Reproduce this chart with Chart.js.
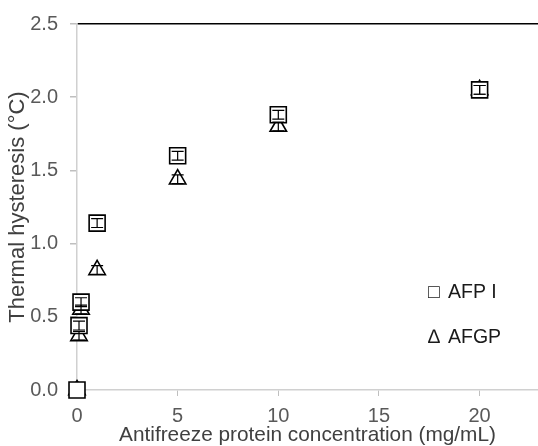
<!DOCTYPE html>
<html>
<head>
<meta charset="utf-8">
<script src="https://cdn.jsdelivr.net/npm/chart.js@4.4.0/dist/chart.umd.min.js"></script>
<style>
  html, body { margin: 0; padding: 0; background: #fff; }
</style>
</head>
<body>
<canvas id="chart" width="538" height="446"></canvas>
<script>
// Antifreeze protein concentration (mg/mL) vs thermal hysteresis (°C)
const afpConc = [0, 0.1, 0.2, 1, 5, 10, 20];
const afpTH = [0, 0.44, 0.60, 1.14, 1.60, 1.88, 2.05];
const afpErr = [0, 0.03, 0.03, 0.03, 0.03, 0.03, 0.03];

const afgpConc = [0, 0.1, 0.2, 1, 5, 10, 20];
const afgpTH = [0, 0.37, 0.55, 0.82, 1.44, 1.80, 2.05];
const afgpErr = [0, 0.03, 0.03, 0.03, 0.03, 0.03, 0.03];

const xTicks = [0, 5, 10, 15, 20];
const yTicks = [0, 0.5, 1, 1.5, 2, 2.5];
const yTickLabels = ['0.0', '0.5', '1.0', '1.5', '2.0', '2.5'];
const legendSymbols = ['\u25A1', '\u2206'];
const legendLabels = ['AFP I', 'AFGP'];

const FONT = '"Liberation Sans", Arial, sans-serif';

function toPoints(xs, ys) {
    return xs.map((x, i) => ({ x: x, y: ys[i] }));
}

// error bars drawn on top of the markers
const errorBars = {
    id: 'errorBars',
    afterDatasetsDraw(chart) {
        const ctx = chart.ctx;
        const xs = chart.scales.x;
        const ys = chart.scales.y;
        const errs = [afpErr, afgpErr];
        chart.data.datasets.forEach((ds, d) => {
            ds.data.forEach((p, i) => {
                const e = errs[d][i];
                if (!e) return;
                const px = xs.getPixelForValue(p.x);
                const top = ys.getPixelForValue(p.y + e);
                const bot = ys.getPixelForValue(p.y - e);
                ctx.save();
                ctx.strokeStyle = '#000';
                ctx.lineWidth = 1.2;
                ctx.beginPath();
                ctx.moveTo(px, top); ctx.lineTo(px, bot);
                ctx.moveTo(px - 6, top); ctx.lineTo(px + 6, top);
                ctx.moveTo(px - 6, bot); ctx.lineTo(px + 6, bot);
                ctx.stroke();
                ctx.restore();
            });
        });
    }
};

// text legend like the original
const textLegend = {
    id: 'textLegend',
    afterDraw(chart) {
        const ctx = chart.ctx;
        ctx.save();
        ctx.font = '19.5px ' + FONT;
        ctx.fillStyle = '#1a1a1a';
        ctx.textAlign = 'left';
        ctx.textBaseline = 'middle';
        const rows = [293, 338];
        rows.forEach((y, i) => {
            ctx.fillText(legendSymbols[i], 428, y);
            ctx.fillText(legendLabels[i], 448, y);
        });
        ctx.restore();
    }
};

const ctx = document.getElementById('chart').getContext('2d');
const chart = new Chart(ctx, {
    type: 'scatter',
    data: {
        datasets: [
            {
                label: 'AFP I',
                data: toPoints(afpConc, afpTH),
                pointStyle: 'rect',
                pointRadius: 11.3,
                pointHoverRadius: 11.3,
                backgroundColor: '#fff',
                borderColor: '#000',
                borderWidth: 1.6,
                clip: false
            },
            {
                label: 'AFGP',
                data: toPoints(afgpConc, afgpTH),
                pointStyle: 'triangle',
                pointRadius: 9.5,
                pointHoverRadius: 9.5,
                backgroundColor: '#fff',
                borderColor: '#000',
                borderWidth: 1.6,
                clip: false
            }
        ]
    },
    options: {
        responsive: false,
        animation: false,
        layout: {
            autoPadding: false,
            padding: { top: 24, right: 0, bottom: 0, left: 0 }
        },
        plugins: {
            legend: { display: false },
            tooltip: { enabled: false }
        },
        scales: {
            x: {
                type: 'linear',
                min: 0,
                max: 22.9,
                afterBuildTicks: function(scale) {
                    scale.ticks = xTicks.map(v => ({ value: v }));
                },
                afterFit: function(scale) {
                    scale.height = 56;
                    scale.paddingLeft = 0;
                    scale.paddingRight = 0;
                },
                ticks: {
                    color: '#595959',
                    font: { family: FONT, size: 20 },
                    padding: 8,
                    maxRotation: 0
                },
                grid: {
                    drawOnChartArea: false,
                    tickLength: 6,
                    color: '#bfbfbf'
                },
                border: { color: '#d0d0d0', width: 1.5 },
                title: {
                    display: true,
                    text: 'Antifreeze protein concentration (mg/mL)',
                    color: '#404040',
                    font: { family: FONT, size: 20.8, lineHeight: 1 },
                    padding: 0
                }
            },
            y: {
                type: 'linear',
                min: 0,
                max: 2.5,
                afterBuildTicks: function(scale) {
                    scale.ticks = yTicks.map(v => ({ value: v }));
                },
                afterFit: function(scale) {
                    scale.width = 77;
                },
                ticks: {
                    color: '#595959',
                    font: { family: FONT, size: 20 },
                    padding: 12,
                    callback: function(value, index) {
                        return yTickLabels[index];
                    }
                },
                grid: {
                    tickLength: 7,
                    lineWidth: 1.5,
                    color: function(c) {
                        return c.tick && c.tick.value === 2.5 ? '#000' : 'rgba(0,0,0,0)';
                    },
                    tickColor: '#bfbfbf'
                },
                border: { color: '#d0d0d0', width: 1.5 },
                title: {
                    display: true,
                    text: 'Thermal hysteresis (°C)',
                    color: '#404040',
                    font: { family: FONT, size: 22, lineHeight: 1.2 },
                    padding: { top: 5, bottom: 0 }
                }
            }
        }
    },
    plugins: [errorBars, textLegend]
});
</script>
</body>
</html>
